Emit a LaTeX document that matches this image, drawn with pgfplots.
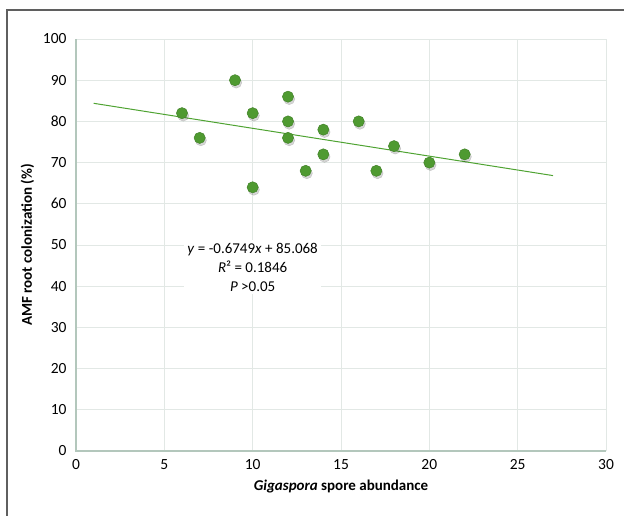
\documentclass[border=0pt]{standalone}
\usepackage{pgfplots}
\pgfplotsset{compat=1.18}
\usepackage{fontspec}
\setmainfont{Carlito}
\definecolor{frame}{HTML}{5F5F5F}
\definecolor{gridc}{HTML}{E2E8E5}
\definecolor{axisc}{HTML}{B3C7BC}
\definecolor{ptc}{HTML}{4F9A31}
\definecolor{linec}{HTML}{4FA332}
\begin{document}
\begin{tikzpicture}[x=1pt,y=1pt]
\useasboundingbox (0,0) rectangle (624,515);
\begin{axis}[
  at={(76pt,64pt)}, anchor=south west,
  width=530pt, height=412pt, scale only axis,
  xmin=0, xmax=30, ymin=0, ymax=100,
  xtick={0,5,...,30}, ytick={0,10,...,100},
  grid=major, major grid style={gridc, line width=0.9pt},
  axis line style={draw=none},
  tick style={draw=none},
  /pgf/number format/assume math mode=true,
  tick label style={font=\fontsize{15.5}{17}\selectfont},
  xticklabel style={yshift=-5pt},
  yticklabel style={xshift=-6pt},
  xlabel={\textbf{\textit{Gigaspora} spore abundance}},
  ylabel={\textbf{AMF root colonization (\%)}},
  label style={font=\fontsize{15}{17}\selectfont},
  xlabel style={yshift=-3pt},
  ylabel style={yshift=2pt},
  clip=false,
]
\addplot[axisc, line width=1.4pt, forget plot] coordinates {(0,100) (0,0) (30,0)};
\addplot[linec, line width=1pt, no marks] coordinates {(1,84.393) (27,66.846)};
\addplot[only marks, mark=*, mark size=5.6pt, draw=none, fill=black, opacity=0.16,
  every mark/.append style={xshift=1.2pt,yshift=-2.4pt}] coordinates {
(6,82) (7,76) (9,90) (10,82) (10,64) (12,86) (12,80) (12,76) (13,68) (14,78) (14,72) (16,80) (17,68) (18,74) (20,70) (22,72)};
\addplot[only marks, mark=*, mark size=5.6pt, mark options={fill=ptc, draw=ptc!85!black, line width=0.5pt}] coordinates {
(6,82) (7,76) (9,90) (10,82) (10,64) (12,86) (12,80) (12,76) (13,68) (14,78) (14,72) (16,80) (17,68) (18,74) (20,70) (22,72)};
\node[fill=white, align=center, font=\fontsize{15}{19}\selectfont, inner sep=3pt] at (axis cs:10,44.6)
  {\textit{y} = -0.6749\textit{x} + 85.068\\\textit{R}² = 0.1846\\\textit{P} >0.05};
\end{axis}
\draw[frame, line width=2.4pt] (7,-5) -- (7,505) -- (630,505);
\end{tikzpicture}
\end{document}
